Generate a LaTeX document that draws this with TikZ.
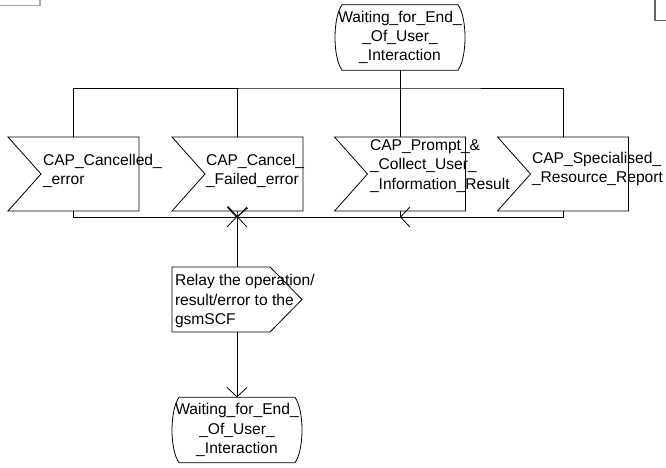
\documentclass[tikz,border=0pt]{standalone}
\usepackage{fontspec}
\setmainfont{Liberation Sans}
\usetikzlibrary{arrows.meta}
\newcommand\drawstate[1]{\draw ([xshift=5.25pt]#1.north west) -- ([xshift=-5.25pt]#1.north east)
  .. controls ([xshift=1.75pt,yshift=-9.75pt]#1.north east) and ([xshift=1.75pt,yshift=9.75pt]#1.south east) .. ([xshift=-5.25pt]#1.south east)
  -- ([xshift=5.25pt]#1.south west)
  .. controls ([xshift=-1.75pt,yshift=9.75pt]#1.south west) and ([xshift=-1.75pt,yshift=-9.75pt]#1.north west) .. cycle;}
\newcommand\drawinput[1]{\draw (#1.north west) -- (#1.north east) -- (#1.south east) -- (#1.south west) -- ([xshift=24.75pt]#1.west) -- cycle;}
\newcommand\drawoutput[1]{\draw (#1.north west) -- ([xshift=-24pt]#1.north east) -- (#1.east) -- ([xshift=-24pt]#1.south east) -- (#1.south west) -- cycle;}
\begin{document}
\begin{tikzpicture}[x=0.75pt,y=-0.75pt,line width=0.6pt,
  arr/.style={-{Straight Barb[length=7pt,width=15pt]}},
  txt/.style={font=\fontsize{11.7}{14.4}\selectfont, inner sep=0pt, outer sep=0pt},
  shapebox/.style={draw=none, inner sep=0pt, outer sep=0pt},
  statebox/.style={shapebox, txt, align=center, minimum width=97.5pt, minimum height=49pt},
  inbox/.style={shapebox, minimum width=98.25pt, minimum height=55.5pt},
  outbox/.style={shapebox, minimum width=97.5pt, minimum height=48.75pt},
  lbl/.style={txt, align=left, anchor=west}]
\useasboundingbox (0,0) rectangle (666,467);
% page corner fragments
\draw[gray!70, line width=0.8pt] (0,5.7) -- (40,5.7) -- (40,0);
\draw[gray!80!black, line width=0.8pt] (655,0) -- (655,20.7) -- (667,20.7);
% states
\node[statebox] (s1) at (400,37.5) {Waiting\_for\_End\_\\\_Of\_User\_\\\_Interaction};
\drawstate{s1}
\node[statebox] (s2) at (237,430) {Waiting\_for\_End\_\\\_Of\_User\_\\\_Interaction};
\drawstate{s2}
% inputs
\node[inbox] (b1) at (73.5,174) {};
\node[inbox] (b2) at (237.5,174) {};
\node[inbox] (b3) at (400,174) {};
\node[inbox] (b4) at (563,174) {};
\drawinput{b1}\drawinput{b2}\drawinput{b3}\drawinput{b4}
\node[lbl] (b1t) at (43,171) {CAP\_Cancelled\_\\\_error};
\node[lbl] (b2t) at (206,171) {CAP\_Cancel\_\\\_Failed\_error};
\node[lbl] (b3t) at (370,166) {CAP\_Prompt\_\&\\\_Collect\_User\_\\\_Information\_Result};
\node[lbl] (b4t) at (532,169) {CAP\_Specialised\_\\\_Resource\_Report};
% output
\node[outbox] (r) at (237,299.5) {};
\drawoutput{r}
\node[lbl] (rt) at (175,301) {Relay the operation/\\result/error to the\\gsmSCF};
% connectors
\coordinate (bt) at (400,88);
\coordinate (j) at (237,217);
\coordinate (k) at (400,217);
\draw (s1.south) -- (b3.north);
\draw (b1.north) |- (bt) -| (b4.north);
\draw (b2.north) -- (b2.north |- bt);
\draw[arr] (b1.south) |- (j);
\draw[arr] (b2.south) -- (j);
\draw[arr] (b3.south) |- (j);
\draw[arr] (b4.south) |- (k);
\draw (j) -- (r.north);
\draw[arr] (r.south) -- (s2.north);
\end{tikzpicture}
\end{document}
